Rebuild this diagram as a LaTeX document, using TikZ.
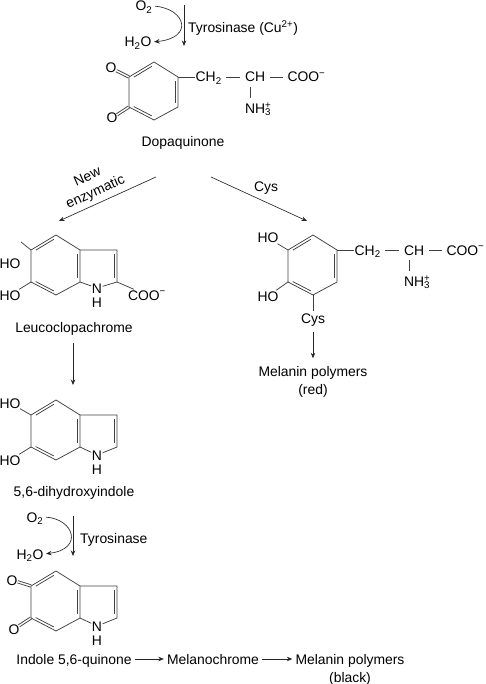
\documentclass[tikz,border=0pt]{standalone}
\usepackage{fontspec}
\setmainfont{Liberation Sans}
\usepackage{tikz}
\usetikzlibrary{arrows.meta,positioning,calc}

\newcommand{\ammonium}{NH\rlap{\textsuperscript{+}}\textsubscript{3}}
\newcommand{\innerbond}[2]{\draw[bond] ($(#1)!.14!(#2)!2.6pt!90:(#2)$) -- ($(#2)!.14!(#1)!2.6pt!-90:(#1)$);}
\newcommand{\carbonyl}[2]{%
  \draw[bond, shorten >=6pt] ($(#1)!1.2pt!90:(#2)$) -- ($(#2)!1.2pt!-90:(#1)$);
  \draw[bond, shorten >=6pt] ($(#1)!1.2pt!-90:(#2)$) -- ($(#2)!1.2pt!90:(#1)$);}
% name, left x, y of upper left atom, length of the vertical sides
\newcommand{\sixring}[4]{%
  \coordinate (#1ul) at (#2,#3);
  \coordinate (#1top) at (#2+25,#3-15);
  \coordinate (#1ur) at (#2+49,#3);
  \coordinate (#1lr) at (#2+49,#3+#4);
  \coordinate (#1bot) at (#2+25,#3+#4+13);
  \coordinate (#1ll) at (#2,#3+#4);
  \draw[bond] (#1ul) -- (#1top) -- (#1ur) -- (#1lr) -- (#1bot) -- (#1ll) -- cycle;
  \innerbond{#1ll}{#1bot}
  \innerbond{#1lr}{#1ur}
  \innerbond{#1top}{#1ul}}
% name, drop of the N below the ring junction
\newcommand{\fivering}[2]{%
  \coordinate (#1fu) at ($(#1ur)+(37,0)$);
  \coordinate (#1fl) at ($(#1lr)+(37,0)$);
  \node[atom] (#1n) at ($(#1lr)+(17,#2)$) {N};
  \node[atom, below=3.5pt of #1n] (#1h) {H};
  \draw[bond] (#1ur) -- (#1fu) -- (#1fl) -- (#1n) -- (#1lr);
  \innerbond{#1fl}{#1fu}}
% name, atom the chain hangs on
\newcommand{\sidechain}[2]{%
  \node[atom, anchor=west] (#1ch2) at ($(#2)+(17,0)$) {CH\textsubscript{2}};
  \node[atom, right=22pt of #1ch2] (#1ch) {CH};
  \node[atom, right=21pt of #1ch] (#1coo) {COO\textsuperscript{−}};
  \node[atom, below=20pt of #1ch.south west, anchor=north west] (#1nh) {\ammonium};
  \draw[bond] (#2) -- (#1ch2);
  \draw[bond, shorten <=4pt, shorten >=4pt] (#1ch2) -- (#1ch);
  \draw[bond, shorten <=4pt, shorten >=4pt] (#1ch) -- (#1coo);
  \draw[bond, shorten <=4.5pt, shorten >=4.5pt] ([xshift=6pt]#1ch.south west) -- ([xshift=6pt]#1nh.north west);}

\begin{document}
\begin{tikzpicture}[
  x=1pt, y=-1pt,
  font=\fontsize{13.9}{15}\selectfont,
  atom/.style={inner sep=0.5pt, text height=10pt, text depth=0pt},
  lbl/.style={inner sep=1pt, text height=10pt, text depth=0pt},
  bond/.style={line width=0.75pt, black!75},
  flow/.style={-{Stealth[length=5.5pt,width=4.5pt]}, line width=0.65pt, black!85}
]
\useasboundingbox (0,0) rectangle (485,684);

% dopaquinone
\node[atom] (o2a) at (144,6) {O\textsubscript{2}};
\node[atom] (wata) at (138,42) {H\textsubscript{2}O};
\node[lbl, anchor=west] (enza) at (187,28) {Tyrosinase (Cu\textsuperscript{2+})};
\coordinate (enzaTop) at (184,5);
\coordinate (enzaEnd) at (184,46);
\draw[flow] (enzaTop) -- (enzaEnd);
\draw[flow, shorten <=2pt, shorten >=2pt] (o2a.east) .. controls (186,9) and (194,38) .. (wata.east);

\sixring{A}{129}{77}{30}
\node[atom] (Ao1) at (111,68) {O};
\node[atom] (Ao2) at (112,118) {O};
\carbonyl{Aul}{Ao1}
\carbonyl{All}{Ao2}
\sidechain{A}{Aur}
\node[lbl] (dopa) at (183,141.5) {Dopaquinone};

% the two routes
\coordinate (leftStart) at (156,177);
\coordinate (leftEnd) at (59,221);
\coordinate (rightStart) at (211,177);
\coordinate (rightEnd) at (307,221);
\draw[flow] (leftStart) -- (leftEnd);
\draw[flow] (rightStart) -- (rightEnd);
\node[lbl, rotate=24] (newLbl) at (87,176) {New};
\node[lbl, rotate=24] (enzLbl) at (95,191) {enzymatic};
\node[lbl] (cysLbl) at (266,187) {Cys};

% leucoclopachrome
\sixring{B}{31}{250}{32}
\fivering{B}{6}
\coordinate (Bstub) at (21,242);
\draw[bond] (Bul) -- (Bstub);
\node[atom] (Bho1) at (10,263) {HO};
\node[atom] (Bho2) at (10,295) {HO};
\draw[bond] (Bll) -- (Bho2);
\node[atom] (Bcoo) at (147,295) {COO\textsuperscript{−}};
\draw[bond] (Bfl) -- (Bcoo);
\node[lbl] (leuco) at (74,327) {Leucoclopachrome};
\coordinate (leucoStart) at (73,343);
\coordinate (leucoEnd) at (73,385);
\draw[flow] (leucoStart) -- (leucoEnd);

% 5,6-dihydroxyindole
\sixring{C}{31}{415}{32}
\fivering{C}{8}
\node[atom] (Cho1) at (10,403) {HO};
\node[atom] (Cho2) at (10,460) {HO};
\draw[bond] (Cul) -- (Cho1);
\draw[bond] (Cll) -- (Cho2);
\node[lbl] (dihy) at (74,491) {5,6-dihydroxyindole};

\node[atom] (o2b) at (35,517) {O\textsubscript{2}};
\node[atom] (watb) at (30,554) {H\textsubscript{2}O};
\node[lbl, anchor=west] (enzb) at (79,538) {Tyrosinase};
\coordinate (enzbTop) at (73,516);
\coordinate (enzbEnd) at (73,556);
\draw[flow] (enzbTop) -- (enzbEnd);
\draw[flow, shorten <=2pt, shorten >=2pt] (o2b.east) .. controls (74,519) and (84,549) .. (watb.east);

% indole quinone
\sixring{D}{31}{586}{32}
\fivering{D}{8}
\node[atom] (Do1) at (12,580) {O};
\node[atom] (Do2) at (14,629) {O};
\carbonyl{Dul}{Do1}
\carbonyl{Dll}{Do2}
\node[lbl] (quin) at (74,659) {Indole 5,6-quinone};
\node[lbl] (chrome) at (213,659) {Melanochrome};
\node[lbl] (black) at (350,659) {Melanin polymers};
\node[lbl] (blackb) at (350,677) {(black)};
\draw[flow, shorten <=2pt, shorten >=2pt] (quin) -- (chrome);
\draw[flow, shorten <=2pt, shorten >=2pt] (chrome) -- (black);

% cysteine adduct
\sixring{E}{288}{250}{32}
\node[atom] (Eho1) at (268,238) {HO};
\node[atom] (Eho2) at (268,296) {HO};
\draw[bond] (Eul) -- (Eho1);
\draw[bond] (Ell) -- (Eho2);
\sidechain{E}{Eur}
\node[lbl] (Ecys) at (313,318) {Cys};
\draw[bond, shorten >=1pt] (Ebot) -- (Ecys);
\node[lbl] (red) at (313,371.5) {Melanin polymers};
\node[lbl] (redb) at (313,389) {(red)};
\draw[flow, shorten <=8pt, shorten >=7pt] (Ecys) -- (red);
\end{tikzpicture}
\end{document}
